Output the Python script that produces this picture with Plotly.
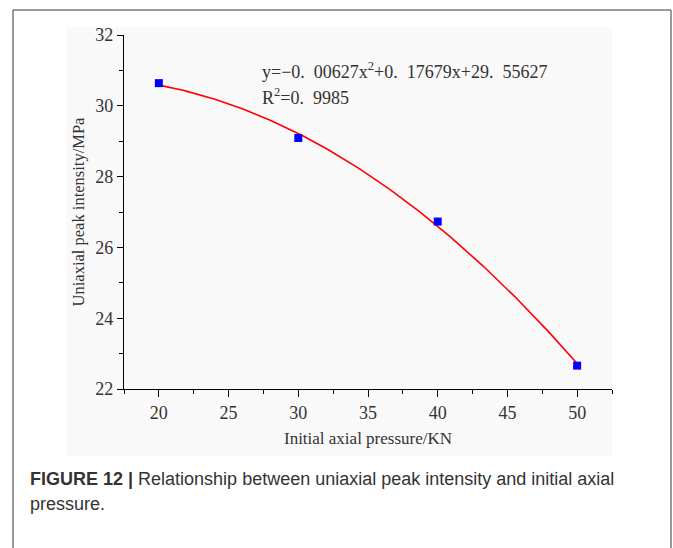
import numpy as np
import plotly.graph_objects as go

# Data
pressure_kn = [20, 30, 40, 50]
peak_mpa = [30.64, 29.09, 26.73, 22.66]
fit_coeffs = [-0.00627, 0.17679, 29.55627]  # from the chart's equation
x_ticks = [20, 25, 30, 35, 40, 45, 50]
y_ticks = [22, 24, 26, 28, 30, 32]

W, H = 673, 548
L, R, T, B = 124, 612, 35, 389

def px(xp):
    return (xp - L) / (R - L)

def py(yp):
    return (B - yp) / (B - T)

xf = np.linspace(pressure_kn[0], pressure_kn[-1], 200)
yf = np.polyval(fit_coeffs, xf)

fig = go.Figure()
fig.add_trace(go.Scatter(x=xf, y=yf, mode="lines",
                         line=dict(color="#ff0000", width=1.6),
                         hoverinfo="skip", showlegend=False))
fig.add_trace(go.Scatter(x=pressure_kn, y=peak_mpa, mode="markers",
                         marker=dict(symbol="square", size=8, color="#0000ff",
                                     line=dict(width=0)),
                         showlegend=False))

serif = "Liberation Serif, Times New Roman, serif"
sans = "Liberation Sans, Arial, sans-serif"

shapes = [
    dict(type="rect", xref="paper", yref="paper", x0=px(66), x1=px(612),
         y0=py(456), y1=py(27), fillcolor="#f9f9f9", line=dict(width=0),
         layer="below"),
    dict(type="line", xref="paper", yref="paper", x0=px(13), x1=px(13),
         y0=py(10), y1=py(560), line=dict(color="#7a7a7a", width=1.5)),
    dict(type="line", xref="paper", yref="paper", x0=px(13), x1=px(671),
         y0=py(10), y1=py(10), line=dict(color="#7a7a7a", width=1.5)),
    dict(type="line", xref="paper", yref="paper", x0=px(671), x1=px(671),
         y0=py(10), y1=py(560), line=dict(color="#7a7a7a", width=1.5)),
]

annotations = [
    dict(xref="paper", yref="paper", x=px(260), y=py(70), xanchor="left",
         yanchor="middle", showarrow=False,
         text="y=−0.\u200200627x<sup>2</sup>+0.\u200217679x+29.\u200255627",
         font=dict(family=serif, size=18, color="#333333")),
    dict(xref="paper", yref="paper", x=px(260), y=py(96), xanchor="left",
         yanchor="middle", showarrow=False,
         text="R<sup>2</sup>=0.\u20029985",
         font=dict(family=serif, size=18, color="#333333")),
    dict(xref="paper", yref="paper", x=px(28), y=py(479), xanchor="left",
         yanchor="middle", showarrow=False,
         text="<b>FIGURE 12 |</b> Relationship between uniaxial peak intensity and initial axial",
         font=dict(family=sans, size=18, color="#333333")),
    dict(xref="paper", yref="paper", x=px(28), y=py(504), xanchor="left",
         yanchor="middle", showarrow=False,
         text="pressure.",
         font=dict(family=sans, size=18, color="#333333")),
]

fig.update_layout(
    width=W, height=H,
    margin=dict(l=L, r=W - R, t=T, b=H - B),
    paper_bgcolor="white", plot_bgcolor="rgba(0,0,0,0)",
    shapes=shapes, annotations=annotations,
    xaxis=dict(range=[17.5, 52.5], tickvals=x_ticks, ticks="outside",
               ticklen=7, tickwidth=1.2, tickcolor="black",
               showline=True, linecolor="black", linewidth=1.2,
               showgrid=False, zeroline=False,
               minor=dict(dtick=2.5, tick0=17.5, ticks="outside", ticklen=4,
                          tickcolor="black", tickwidth=1.2, showgrid=False),
               tickfont=dict(family=serif, size=18, color="#333333"),
               title=dict(text="Initial axial pressure/KN", standoff=10,
                          font=dict(family=serif, size=17, color="#333333"))),
    yaxis=dict(range=[22, 32], tickvals=y_ticks, ticks="outside",
               ticklen=6, tickwidth=1.2, tickcolor="black",
               showline=True, linecolor="black", linewidth=1.2,
               showgrid=False, zeroline=False,
               minor=dict(dtick=1, tick0=22, ticks="outside", ticklen=4,
                          tickcolor="black", tickwidth=1.2, showgrid=False),
               tickfont=dict(family=serif, size=18, color="#333333"),
               title=dict(text="Uniaxial peak intensity/MPa", standoff=6,
                          font=dict(family=serif, size=16.5, color="#333333"))),
)

fig.write_html("out.html",
               config={"displayModeBar": False},
               post_script="document.body.style.margin='0';"
                           "document.body.style.overflow='hidden';")
